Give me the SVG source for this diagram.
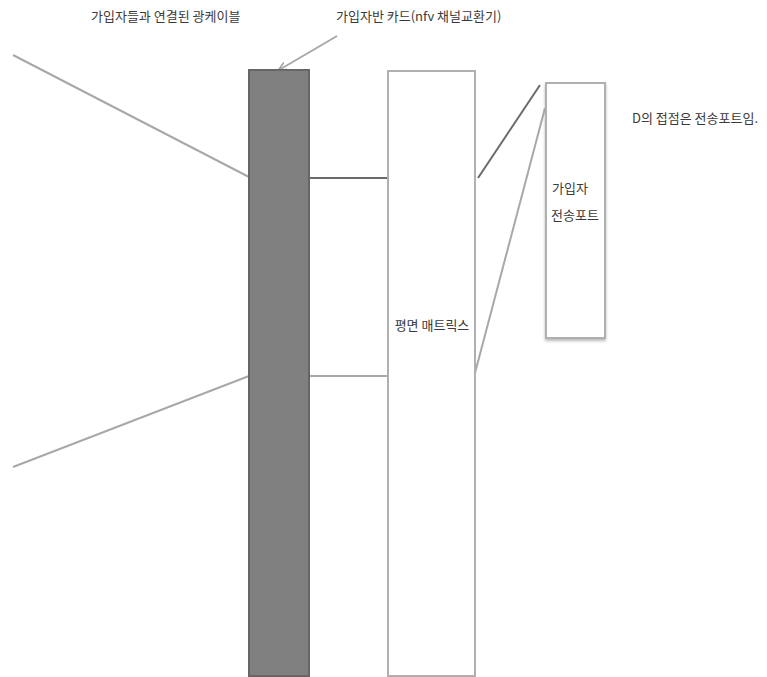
<svg xmlns="http://www.w3.org/2000/svg" width="767" height="677" viewBox="0 0 767 677">
<style>
text{font-family:"Noto Sans CJK KR","Liberation Sans",sans-serif;font-size:13px;fill:#3a3a3a}
.ln{stroke:#a8a8a8;stroke-width:2;fill:none}
.dk{stroke:#6a6a6a;stroke-width:2;fill:none}
</style>
<defs>
<marker id="ah" markerWidth="10" markerHeight="10" refX="8" refY="5" orient="auto" markerUnits="userSpaceOnUse">
<path d="M0,1 L9,5 L0,9" fill="none" stroke="#a0a0a0" stroke-width="1.6"/>
</marker>
<filter id="sh" x="-20%" y="-5%" width="140%" height="110%">
<feDropShadow dx="0" dy="2" stdDeviation="1.5" flood-color="#888" flood-opacity="0.6"/>
</filter>
</defs>
<rect width="767" height="677" fill="#fff"/>
<g id="connectors">
<line class="ln" x1="13" y1="55" x2="249" y2="177"/>
<line class="ln" x1="13" y1="467" x2="249" y2="376"/>
<line class="dk" x1="309" y1="178" x2="388" y2="178"/>
<line class="ln" x1="309" y1="376" x2="388" y2="376"/>
<line class="dk" x1="478" y1="178" x2="540" y2="85"/>
<line class="ln" x1="475" y1="373" x2="545" y2="108"/>
<line class="ln" x1="337" y1="36" x2="279" y2="70" marker-end="url(#ah)"/>
</g>
<g id="card">
<rect x="249" y="70" width="60" height="606" fill="#808080" stroke="#666" stroke-width="2"/>
</g>
<g id="matrix">
<rect x="388" y="71" width="87" height="605" fill="#fff" stroke="#b0b0b0" stroke-width="2"/>
<text x="432" y="330" text-anchor="middle">평면 매트릭스</text>
</g>
<g id="port">
<rect x="546" y="83" width="59" height="255" fill="#fff" stroke="#b0b0b0" stroke-width="2" filter="url(#sh)"/>
<text x="570" y="193" text-anchor="middle">가입자</text>
<text x="575" y="220" text-anchor="middle">전송포트</text>
</g>
<g id="labels">
<text x="91" y="21">가입자들과 연결된 광케이블</text>
<text x="336" y="21">가입자반 카드(nfv 채널교환기)</text>
<text x="632" y="123">D의 접점은 전송포트임.</text>
</g>
</svg>
